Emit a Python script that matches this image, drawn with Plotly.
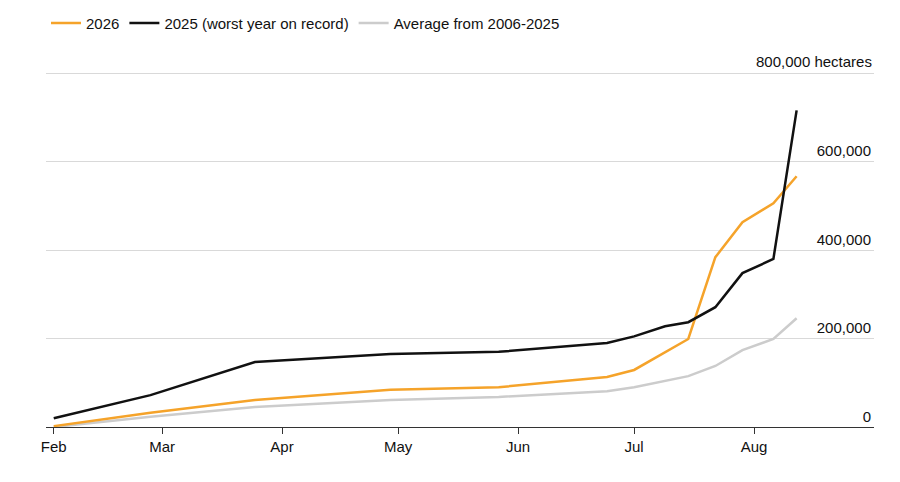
import plotly.graph_objects as go

dates = ["2026-02-01","2026-02-26","2026-03-25","2026-04-29","2026-05-27","2026-06-24",
         "2026-07-01","2026-07-09","2026-07-15","2026-07-22","2026-07-29","2026-08-06","2026-08-12"]
y2025 = [20000,72000,147000,165000,170000,190000,205000,228000,237000,271000,348000,380000,716000]
y2026 = [2000,32000,61000,84000,90000,113000,129000,170000,199000,384000,463000,506000,567000]
yavg  = [0,23000,45000,61000,68000,81000,90000,104000,115000,138000,174000,199000,246000]

tickvals = [0,200000,400000,600000,800000]
ticktext = ["0","200,000","400,000","600,000",""]
top_label = "800,000 hectares"
month_ticks = ["2026-02-01","2026-03-01","2026-04-01","2026-05-01","2026-06-01","2026-07-01","2026-08-01"]
month_labels = ["Feb","Mar","Apr","May","Jun","Jul","Aug"]

fig = go.Figure()
fig.add_trace(go.Scatter(x=dates, y=yavg, mode="lines", name="Average from 2006-2025", legendrank=3,
                         line=dict(color="#cccccc", width=2.5)))
fig.add_trace(go.Scatter(x=dates, y=y2026, mode="lines", name="2026", legendrank=1,
                         line=dict(color="#f5a32a", width=2.5)))
fig.add_trace(go.Scatter(x=dates, y=y2025, mode="lines", name="2025 (worst year on record)", legendrank=2,
                         line=dict(color="#111111", width=2.5)))

fig.add_annotation(x=1, xref="paper", xanchor="right", y=tickvals[-1], yref="y", yanchor="bottom",
                   text=top_label, showarrow=False, font=dict(size=15, color="#111"), yshift=1)

fig.update_layout(
    width=900, height=482, plot_bgcolor="white", paper_bgcolor="white",
    margin=dict(l=38, r=34, t=52, b=63, autoexpand=False),
    font=dict(family="Liberation Sans, Arial", size=15, color="#111"),
    showlegend=True,
    legend=dict(orientation="h", x=0.0, xanchor="left", y=1.10, yanchor="middle",
                font=dict(size=15), itemwidth=30),
    xaxis=dict(range=["2026-01-30","2026-09-01"], tickvals=month_ticks, ticktext=month_labels,
               showgrid=False, ticks="outside", ticklen=6, tickcolor="#333",
               showline=True, linecolor="#333", linewidth=1, zeroline=False),
    yaxis=dict(range=[0,830000], side="right", tickvals=tickvals, ticktext=ticktext,
               ticklabelposition="inside top", showgrid=True, gridcolor="#d9d9d9",
               zeroline=False, ticks="", showline=False, tickfont=dict(color="#111")),
)
fig.write_html("out.html")
